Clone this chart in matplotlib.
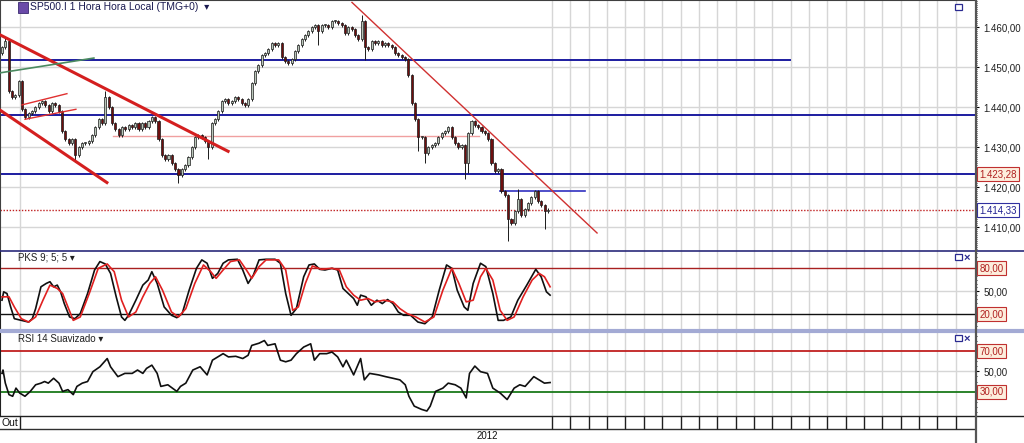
import numpy as np
import matplotlib.pyplot as plt
import matplotlib.transforms as mtransforms
from matplotlib.lines import Line2D
from matplotlib.patches import Rectangle
from matplotlib.ticker import FixedLocator, MultipleLocator, FuncFormatter

plt.rcParams['font.family'] = ['Liberation Sans', 'DejaVu Sans']

# ---- data (hourly bars, index = bar number) ----
first_open = 1453.5
closes = [1455, 1456.5, 1444, 1442.5, 1443, 1446.5, 1439.5, 1437.5, 1438.5, 1439,
          1440, 1441, 1441.5, 1440.5, 1439, 1441, 1440.5, 1439, 1434, 1432,
          1431, 1432, 1428, 1430, 1431, 1431, 1431.5, 1433, 1435, 1437,
          1436, 1442.5, 1440, 1436, 1434.5, 1433, 1435, 1434.5, 1435.5, 1435,
          1436, 1434.5, 1436, 1435, 1436.5, 1437.5, 1436.5, 1432, 1428, 1427,
          1428, 1426, 1424.5, 1423, 1424.5, 1425.5, 1427.5, 1430, 1432.5, 1433,
          1432.5, 1431.5, 1430, 1436, 1437, 1439, 1441.5, 1442, 1441, 1441.5,
          1442.5, 1442, 1441, 1440.5, 1442, 1446, 1449, 1450.5, 1453, 1453.5,
          1454.5, 1456, 1455.5, 1456, 1452.5, 1451.5, 1451, 1452, 1454, 1455.5,
          1457, 1458, 1459, 1460, 1460.5, 1459, 1460.5, 1460.5, 1460, 1461.5,
          1461.5, 1461, 1460.5, 1458.5, 1460, 1459.5, 1458, 1457, 1461.5, 1455,
          1454.5, 1456.5, 1456, 1456.5, 1455.5, 1456, 1455.5, 1455, 1453.5, 1453,
          1452.5, 1452, 1448, 1441, 1437, 1432.5, 1432.5, 1428.5, 1430, 1430.5,
          1431, 1432.5, 1433.5, 1434, 1435, 1432.5, 1431, 1430, 1430.5, 1426,
          1433.5, 1436.5, 1435.5, 1435, 1434, 1433.5, 1432, 1426, 1424, 1424.5,
          1419, 1418, 1412, 1411, 1414, 1417, 1413, 1414.5, 1416, 1417.5,
          1419, 1416.5, 1415.5, 1414, 1414.33]
# long wicks: bar -> (high, low)
wick_high = {1: 1457.5, 31: 1444, 108: 1463, 155: 1419.5}
wick_low = {22: 1426.3, 53: 1421, 62: 1427, 95: 1455.6, 109: 1451.8, 125: 1429,
            127: 1426, 139: 1422, 140: 1423.5, 152: 1406.5, 163: 1409.5}

# drawn lines on the price panel
hlines_full = [1438.0, 1423.28]
hline_top = 1451.8
hline_top_end = 236.6
hline_short = 1419.0
hline_short_x = [149.5, 175.0]
pink_level = 1432.8
pink_x = [33.3, 143.2]
last_price = 1414.33
chan_upper = ([-0.6, 67.9], [1458.1, 1429.0])
chan_lower = ([-0.6, 31.5], [1439.3, 1421.2])
small_up1 = ([6.0, 19.5], [1440.6, 1443.4])
small_up2 = ([6.9, 22.2], [1437.0, 1439.5])
green_line = ([-0.6, 27.6], [1448.6, 1452.3])
down_trend = ([105.1, 178.7], [1466.2, 1408.6])

# PKS 9;5;5
pks_x = [0, 0.5, 1.5, 2.6, 3.7, 5.8, 8.0, 9.1, 10.1, 11.7, 13.3, 14.4, 15.5, 16.6, 17.6,
         18.7, 20.3, 21.9, 23.5, 25.7, 27.8, 29.4, 31.0, 32.6, 34.3, 35.9, 36.9, 38.0,
         40.2, 42.3, 43.9, 45.0, 46.6, 48.7, 50.9, 52.5, 54.1, 56.2, 58.4, 60.0, 61.6,
         63.2, 64.8, 66.4, 68.0, 70.7, 72.3, 73.9, 75.5, 77.2, 79.3, 82.0, 83.6, 85.2,
         86.8, 88.4, 90.6, 92.2, 93.8, 95.4, 97.0, 99.1, 100.8, 102.4, 104.0, 105.6,
         106.7, 107.7, 109.3, 110.9, 112.6, 114.2, 115.8, 117.4, 119.0, 120.6, 122.7,
         124.9, 127.0, 129.2, 131.3, 133.5, 135.1, 136.7, 138.8, 139.9, 141.5, 143.7,
         145.3, 147.4, 149.0, 150.6, 152.8, 154.9, 157.6, 160.3, 161.9, 163.5, 164.6]
pks_k = [38.4, 49.3, 47.1, 29.6, 14.3, 12.1, 9.9, 14.3, 27.4, 55.9, 60.3, 62.5, 55.9, 58.1,
         49.3, 34, 16.5, 14.3, 20.9, 47.1, 77.8, 88.8, 85.7, 73.4, 42.8, 16.5, 12.1, 18.7,
         38.4, 58.1, 64.7, 75.6, 60.3, 29.6, 18.7, 15.6, 20.9, 51.5, 80, 91, 86.6, 66.9,
         73.4, 86.6, 91, 91.8, 77.8, 60.3, 71.3, 91, 91.8, 91.8, 86.6, 47.1, 18.7, 27.4,
         69, 84.4, 85.7, 78.7, 77.8, 80, 77.8, 53.7, 47.1, 40.6, 31.8, 45, 42.8, 31.8,
         38.4, 34, 39.3, 34, 23, 18.7, 18.7, 9.9, 7.7, 16.5, 51.5, 84.4, 80, 51.5, 29.6,
         25.2, 60.3, 86.6, 82.2, 47.1, 12.1, 12.1, 16.5, 38.4, 58.1, 78.7, 69, 49.3, 45]
pks_dx = [0, 2.1, 3.7, 5.8, 8.0, 10.1, 12.3, 14.4, 16.6, 18.2, 19.8, 21.4, 23.5, 26.2, 28.9,
          31.6, 33.7, 35.9, 38.0, 40.2, 42.3, 44.4, 46.1, 48.2, 50.9, 53.0, 55.2, 57.9,
          60.5, 62.7, 64.3, 66.4, 68.6, 71.3, 73.4, 75.0, 77.2, 79.3, 83.1, 85.2, 87.3,
          89.0, 91.1, 93.2, 95.9, 99.1, 101.3, 103.4, 105.6, 107.7, 109.9, 112.0, 114.7,
          117.4, 119.5, 121.7, 124.3, 127.0, 129.7, 132.4, 135.1, 137.2, 139.4, 141.5,
          143.7, 145.3, 147.4, 149.6, 151.7, 153.8, 156.5, 159.2, 161.3, 162.9, 164.6]
pks_d = [42.8, 42.8, 29.6, 14.3, 9.9, 16.5, 38.4, 58.1, 53.7, 47.1, 29.6, 12.1, 16.5, 47.1,
         80, 85.7, 75.6, 38.4, 16.5, 23, 42.8, 60.3, 69, 51.5, 23, 16.5, 27.4, 60.3, 84.4,
         75.6, 66.9, 77.8, 88.8, 91, 77.8, 66.9, 82.2, 91, 91, 77.8, 25.2, 29.6, 60.3,
         83.1, 78.7, 80, 77.8, 55.9, 45, 38.4, 40.6, 36.2, 38.4, 36.2, 27.4, 20.9, 16.5,
         9.9, 16.5, 51.5, 80, 60.3, 36.2, 38.4, 69, 80, 64.7, 25.2, 12.1, 16.5, 42.8,
         64.7, 73.4, 69, 55.9]

# RSI 14 smoothed
rsi_x = [0, 0.3, 1.0, 2.1, 3.2, 4.2, 5.3, 6.9, 8.5, 10.1,
         11.7, 12.8, 13.9, 15.5, 17.1, 18.2, 19.8, 21.4, 22.5, 24.1,
         25.7, 27.3, 29.4, 31.6, 32.6, 34.8, 36.9, 39.1, 40.7, 42.3,
         43.4, 45.0, 46.6, 47.7, 49.8, 52.5, 53.6, 55.2, 57.3, 59.5,
         61.6, 63.2, 64.8, 66.4, 68.0, 70.2, 72.3, 73.9, 75.0, 77.2,
         78.8, 79.8, 82.0, 83.6, 85.2, 86.8, 88.4, 90.6, 92.7, 93.8,
         95.4, 97.5, 99.1, 100.8, 102.4, 103.4, 105.6, 107.7, 108.8, 110.4,
         113.1, 115.2, 117.4, 119.5, 121.1, 122.2, 123.8, 126.0, 127.6, 128.6,
         130.2, 132.4, 134.0, 136.1, 137.8, 139.4, 140.4, 142.0, 143.7, 145.8,
         147.4, 149.6, 151.7, 153.8, 155.5, 157.1, 159.7, 161.3, 162.9, 164.6]
rsi_v = [48, 51.3, 38.4, 27.1, 25.5, 33.5, 28.7, 25.5, 30.3, 36.8,
         38.4, 40, 38.4, 43.2, 38.4, 30.3, 32, 27.1, 35.2, 38.4,
         40, 49.7, 54.5, 62.6, 54.5, 44.8, 48, 48, 51.3, 48,
         52.9, 56.1, 48, 35.2, 36.8, 30.3, 35.2, 38.4, 51.3, 54.5,
         46.5, 61, 64.2, 67.4, 64.2, 64.8, 62.6, 65.8, 75.5, 77.7,
         80.3, 75.5, 77.1, 61, 59.4, 61, 67.4, 73.9, 77.1, 61,
         67.4, 67.4, 69, 64.2, 54.5, 61, 46.5, 62.6, 41.6, 48,
         46.5, 44.8, 43.2, 41.6, 36.8, 25.5, 15.8, 12.6, 11, 15.8,
         30.3, 33.5, 38.4, 36.8, 33.5, 23.9, 48, 55.2, 49.7, 48,
         33.5, 28.7, 22.3, 33.5, 36.8, 35.2, 44.8, 41.6, 38.4, 39]

out_bar = 5.4
year_bar = 145.6
first_day_bar = 165.2
day_step = 5.51

# ---- layout helpers (pixel based) ----
W, H = 1024, 443
XLIM = (-0.6, 292.2)
fig = plt.figure(figsize=(W / 100, H / 100), dpi=100)
fig.patch.set_facecolor('white')


def px_axes(x0, y0, x1, y1):
    return fig.add_axes([x0 / W, 1 - y1 / H, (x1 - x0) / W, (y1 - y0) / H])


def fig_line(x0, y0, x1, y1, **kw):
    fig.add_artist(Line2D([x0 / W, x1 / W], [1 - y0 / H, 1 - y1 / H],
                          transform=fig.transFigure, **kw))


def br(v, pos=None):
    s = f"{v:,.2f}"
    return s.replace(',', 'X').replace('.', ',').replace('X', '.')


def box_label(ax, y, text, fc, ec, tc):
    tr = mtransforms.blended_transform_factory(ax.transAxes, ax.transData)
    ax.text(1.0045, y, text, transform=tr, ha='left', va='center', fontsize=7,
            color=tc, clip_on=False,
            bbox=dict(boxstyle='square,pad=0.22', fc=fc, ec=ec, lw=0.8))


day_lines = first_day_bar + day_step * np.arange(23)
grid_col = '#d6d6d6'

# ---- price panel ----
ax = px_axes(0, 0, 975, 251)
ax.set_xlim(*XLIM)
ax.set_ylim(1404.1, 1466.8)
for sp in ['right', 'bottom']:
    ax.spines[sp].set_visible(False)
for sp in ['left', 'top']:
    ax.spines[sp].set_color('#404040')
ax.set_xticks([])
ax.yaxis.tick_right()
ax.yaxis.set_major_locator(FixedLocator([1410, 1420, 1430, 1440, 1450, 1460]))
ax.yaxis.set_minor_locator(MultipleLocator(0.5))
ax.yaxis.set_major_formatter(FuncFormatter(br))
ax.tick_params(axis='y', which='major', length=3, pad=3, labelsize=7, labelcolor='#202020')
ax.tick_params(axis='y', which='minor', length=1.5)
ax.grid(axis='y', color=grid_col, lw=1)
for xv in np.r_[out_bar, day_lines]:
    ax.axvline(xv, color=grid_col, lw=1, zorder=0)

c = np.array(closes)
o = np.r_[first_open, c[:-1]]
x = np.arange(len(c))
hi = np.maximum(o, c) + 0.4
lo = np.minimum(o, c) - 0.4
for k, v in wick_high.items():
    hi[k] = v
for k, v in wick_low.items():
    lo[k] = v
ax.vlines(x, lo, hi, color='#1a1a1a', lw=0.7, zorder=3)
body = c - o
body = np.where(np.abs(body) < 0.3, 0.3, body)
up = c >= o
ax.bar(x[up], body[up], bottom=o[up], width=0.62, color='#b9c6b9',
       edgecolor='#1a1a1a', lw=0.5, zorder=4)
ax.bar(x[~up], body[~up], bottom=o[~up], width=0.62, color='#6e0e0e',
       edgecolor='#1a1a1a', lw=0.5, zorder=4)

blue = '#1c1ca0'
for lv in hlines_full:
    ax.axhline(lv, color=blue, lw=1.4, zorder=2)
ax.plot([XLIM[0], hline_top_end], [hline_top, hline_top], color=blue, lw=1.4, zorder=2)
ax.plot(hline_short_x, [hline_short, hline_short], color='#3030c0', lw=1.2, zorder=2)
ax.plot(pink_x, [pink_level, pink_level], color='#f0a0a0', lw=1, zorder=2)
ax.axhline(last_price, color='#c02020', lw=1, ls=(0, (1, 1.2)), zorder=2)
ax.plot(*chan_upper, color='#d41f1f', lw=2.2, zorder=5)
ax.plot(*chan_lower, color='#d41f1f', lw=2.2, zorder=5)
ax.plot(*small_up1, color='#e03030', lw=1, zorder=5)
ax.plot(*small_up2, color='#e03030', lw=1, zorder=5)
ax.plot(*green_line, color='#4a8a60', lw=1.2, zorder=5)
ax.plot(*down_trend, color='#d03030', lw=1, zorder=5)
box_label(ax, 1423.28, br(1423.28), '#fdeedd', '#c03030', '#b02020')
box_label(ax, last_price, br(last_price), 'white', '#3030a0', '#202090')

# ---- PKS panel ----
ax2 = px_axes(0, 251, 975, 331)
ax2.set_xlim(*XLIM)
ax2.set_ylim(-1.8, 102.6)
for sp in ['right', 'bottom', 'top']:
    ax2.spines[sp].set_visible(False)
ax2.spines['left'].set_color('#202020')
ax2.set_xticks([])
ax2.yaxis.tick_right()
ax2.set_yticks([50])
ax2.yaxis.set_minor_locator(MultipleLocator(5))
ax2.yaxis.set_major_formatter(FuncFormatter(br))
ax2.tick_params(axis='y', which='major', length=3, pad=3, labelsize=7, labelcolor='#202020')
ax2.tick_params(axis='y', which='minor', length=1.5)
ax2.axhline(50, color=grid_col, lw=1, zorder=0)
for xv in np.r_[out_bar, day_lines]:
    ax2.axvline(xv, color=grid_col, lw=1, zorder=0)
ax2.axhline(80, color='#a82020', lw=1)
ax2.axhline(20, color='#101010', lw=1)
ax2.plot(pks_x, pks_k, color='#101010', lw=1.2)
ax2.plot(pks_dx, pks_d, color='#e02020', lw=1.2)
box_label(ax2, 80, '80,00', '#fdeedd', '#c03030', '#b02020')
box_label(ax2, 20, '20,00', '#fdeedd', '#c03030', '#b02020')

# ---- RSI panel ----
ax3 = px_axes(0, 332, 975, 416)
ax3.set_xlim(*XLIM)
ax3.set_ylim(6.1, 88.7)
for sp in ['right', 'bottom', 'top']:
    ax3.spines[sp].set_visible(False)
ax3.spines['left'].set_color('#202020')
ax3.set_xticks([])
ax3.yaxis.tick_right()
ax3.set_yticks([50])
ax3.yaxis.set_minor_locator(MultipleLocator(5))
ax3.yaxis.set_major_formatter(FuncFormatter(br))
ax3.tick_params(axis='y', which='major', length=3, pad=3, labelsize=7, labelcolor='#202020')
ax3.tick_params(axis='y', which='minor', length=1.5)
ax3.axhline(50, color=grid_col, lw=1, zorder=0)
for xv in np.r_[out_bar, day_lines]:
    ax3.axvline(xv, color=grid_col, lw=1, zorder=0)
ax3.axhline(70, color='#c02020', lw=1.3)
ax3.axhline(30, color='#1a7a1a', lw=1.3)
ax3.plot(rsi_x, rsi_v, color='#101010', lw=1.2)
box_label(ax3, 70, '70,00', '#fdeedd', '#c03030', '#b02020')
box_label(ax3, 30, '30,00', '#fdeedd', '#c03030', '#b02020')

# ---- date row ----
ax4 = px_axes(0, 416, 975, 443)
ax4.set_xlim(*XLIM)
ax4.set_ylim(0, 1)
ax4.axis('off')
row = (443 - 429) / 27
ax4.axhline(row, color='#303030', lw=1)
ax4.vlines(np.r_[out_bar, day_lines], row, 1, color='#202020', lw=1)
ax4.text(-0.2, (1 + row) / 2, 'Out', fontsize=7.5, va='center', ha='left', color='#101010')
ax4.text(year_bar, row / 2, '2012', fontsize=7, va='center', ha='center', color='#101010')

# ---- frame lines and header ----
fig_line(0, 251, W, 251, color='#2a2a7a', lw=1.2)
fig_line(0, 331, W, 331, color='#a3aad4', lw=3)
fig_line(0, 416, W, 416, color='#202020', lw=1)
fig_line(975.5, 0, 975.5, H, color='#555555', lw=1.6)

fig.add_artist(Rectangle((18 / W, 1 - 13 / H), 10 / W, 11 / H, transform=fig.transFigure,
                         fc='#6a4aa8', ec='#3a2a70', lw=0.6))
fig.text(30 / W, 1 - 7.5 / H, 'SP500.I 1 Hora Hora Local (TMG+0)  \u25be', fontsize=7.5,
         va='center', ha='left', color='#1a1a50')
fig.text(18 / W, 1 - 258 / H, 'PKS 9; 5; 5 \u25be', fontsize=7, va='center', ha='left',
         color='#202020')
fig.text(18 / W, 1 - 339 / H, 'RSI 14 Suavizado \u25be', fontsize=7, va='center', ha='left',
         color='#202020')
for yy, with_x in [(4, False), (254, True), (335, True)]:
    fig.add_artist(Rectangle((955 / W, 1 - (yy + 6) / H), 7 / W, 6 / H,
                             transform=fig.transFigure, fc='white', ec='#2a2a90', lw=0.9))
    if with_x:
        fig.text(967 / W, 1 - (yy + 3.5) / H, '\u00d7', fontsize=8, fontweight='bold',
                 va='center', ha='center', color='#2a2a90')

fig.savefig('out.png', dpi=100)
